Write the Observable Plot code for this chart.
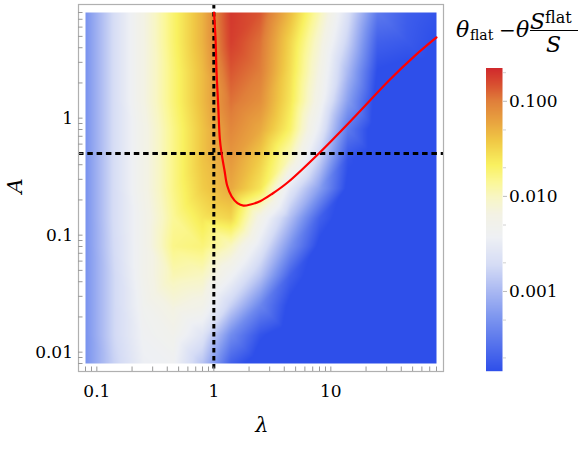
<!DOCTYPE html>
<html>
<head>
<meta charset="utf-8">
<script src="https://cdn.jsdelivr.net/npm/d3@7"></script>
<script src="https://cdn.jsdelivr.net/npm/@observablehq/plot@0.6"></script>
<style>
  body { margin: 0; background: #fff; }
  #chart { position: relative; width: 581px; height: 449px; font-family: 'DejaVu Serif', serif; }
  #chart > svg { position: absolute; top: 0; }
</style>
</head>
<body>
<div id="chart"></div>
<script>
// ---- data ----
const lambdaGrid = [0.08, 0.14, 0.25, 0.45, 0.8, 1.4, 2.5, 4.5, 8, 14, 25, 45, 80];
const aGrid = [8, 4.5, 2.5, 1.4, 0.8, 0.45, 0.25, 0.14, 0.08, 0.045, 0.025, 0.014, 0.008];
// log10(theta_flat - theta*S_flat/S), one row per aGrid value, one column per lambdaGrid value
const logValues = [
  [-3.3, -2.7, -2.2, -1.72, -1.3, -0.72, -0.85, -1.35, -1.95, -2.65, -3.5, -3.72, -3.8],
  [-3.3, -2.7, -2.2, -1.72, -1.3, -0.75, -0.95, -1.5, -2.1, -2.8, -3.7, -3.75, -3.85],
  [-3.3, -2.7, -2.2, -1.75, -1.35, -0.85, -1.0, -1.55, -2.2, -3.0, -3.85, -3.9, -3.9],
  [-3.3, -2.7, -2.2, -1.75, -1.35, -0.95, -1.1, -1.6, -2.3, -3.2, -3.95, -4, -4],
  [-3.3, -2.7, -2.25, -1.8, -1.4, -1.05, -1.25, -1.7, -2.5, -3.5, -4, -4, -4],
  [-3.3, -2.7, -2.25, -1.8, -1.4, -1.15, -1.45, -2.0, -2.8, -3.8, -4, -4, -4],
  [-3.3, -2.7, -2.25, -1.8, -1.45, -1.25, -1.6, -2.55, -3.2, -3.9, -4, -4, -4],
  [-3.3, -2.7, -2.3, -1.85, -1.6, -1.5, -2.25, -2.95, -3.7, -4, -4, -4, -4],
  [-3.3, -2.72, -2.3, -1.8, -1.75, -2.0, -2.55, -3.3, -3.9, -4, -4, -4, -4],
  [-3.3, -2.75, -2.3, -1.95, -2.0, -2.4, -2.9, -3.7, -4, -4, -4, -4, -4],
  [-3.3, -2.75, -2.35, -2.15, -2.25, -2.8, -3.4, -3.9, -4, -4, -4, -4, -4],
  [-3.3, -2.75, -2.4, -2.3, -2.6, -3.35, -3.8, -4, -4, -4, -4, -4, -4],
  [-3.3, -2.8, -2.45, -2.4, -2.9, -3.7, -4, -4, -4, -4, -4, -4, -4]
];
const curveLambda = [1.004, 1.034, 1.055, 1.09, 1.125, 1.164, 1.234, 1.30, 1.42, 1.59, 1.79, 2.06, 2.51, 3.18, 4.27, 7.93, 16.3, 31.4, 52.7, 80];
const curveA = [8.0, 4.77, 2.47, 1.28, 0.667, 0.502, 0.357, 0.266, 0.214, 0.188, 0.179, 0.183, 0.196, 0.227, 0.282, 0.502, 1.05, 2.10, 3.44, 4.90];
const lambdaLine = [1];
const aLine = [0.5];
const xTicks = [0.08, 0.09, 0.1, 0.2, 0.3, 0.4, 0.5, 0.6, 0.7, 0.8, 0.9, 1, 2, 3, 4, 5, 6, 7, 8, 9, 10, 20, 30, 40, 50, 60, 70, 80];
const xTickLabels = [0.1, 1, 10];
const yTicks = [0.008, 0.009, 0.01, 0.02, 0.03, 0.04, 0.05, 0.06, 0.07, 0.08, 0.09, 0.1, 0.2, 0.3, 0.4, 0.5, 0.6, 0.7, 0.8, 0.9, 1, 2, 3, 4, 5, 6, 7, 8];
const yTickLabels = [0.01, 0.1, 1];
const barTicks = [0.0002, 0.0005, 0.002, 0.005, 0.02, 0.05, 0.2];
const barTickLabels = [0.001, 0.01, 0.1];
const barDomain = [0.000145, 0.224];
const colorStops = [-3.84, -3.56, -3.28, -3.0, -2.72, -2.43, -2.19, -2.01, -1.84, -1.667, -1.42, -1.21, -1.0, -0.824, -0.65];
const colorRange = ["#2e4fea", "#5572ec", "#7c95ef", "#a9b8f2", "#d5dcf5", "#eef0f4", "#f3f2e5", "#f8f6c5", "#fbf795", "#f9f160", "#f0c845", "#e8a23f", "#e07f3a", "#d84f30", "#d0282c"];

// ---- tables built from the arrays ----
const FONT = "'DejaVu Serif', serif";
const cells = [];
aGrid.forEach((a, i) => lambdaGrid.forEach((l, j) => cells.push({lambda: l, A: a, v: logValues[i][j]})));
const curve = curveLambda.map((l, i) => ({lambda: l, A: curveA[i]}));
const colorScale = {type: "linear", domain: colorStops, range: colorRange, clamp: true, interpolate: "rgb"};
const xLab = new Set(xTickLabels), yLab = new Set(yTickLabels);

const main = Plot.plot({
  width: 581, height: 449,
  marginLeft: 78, marginRight: 138, marginTop: 4, marginBottom: 78,
  insetLeft: 7, insetRight: 7, insetTop: 8, insetBottom: 8,
  x: {type: "log", domain: [0.08, 80], label: null},
  y: {type: "log", domain: [0.008, 8], label: null},
  color: colorScale,
  style: {fontFamily: FONT, fontSize: "17px", color: "#000", background: "transparent"},
  marks: [
    Plot.raster(cells, {x: "lambda", y: "A", fill: "v", interpolate: "barycentric", x1: 0.08, x2: 80, y1: 0.008, y2: 8}),
    Plot.ruleY(aLine, {stroke: "#000", strokeWidth: 3, strokeDasharray: "5.5,3.8"}),
    Plot.ruleX(lambdaLine, {stroke: "#000", strokeWidth: 3, strokeDasharray: "4.5,3.5"}),
    Plot.line(curve, {x: "lambda", y: "A", stroke: "#ff0000", strokeWidth: 2.2, curve: "catmull-rom"}),
    Plot.frame({stroke: "#b0b0b0", strokeWidth: 1.2}),
    Plot.axisX(xTicks, {anchor: "bottom", tickSize: -4.5, tickPadding: 18, stroke: "#999",
      fontFamily: FONT, tickFormat: d => xLab.has(d) ? String(d) : "", label: null}),
    Plot.axisY(yTicks, {anchor: "left", tickSize: -4.5, tickPadding: 10, stroke: "#999",
      fontFamily: FONT, tickFormat: d => yLab.has(d) ? String(d) : "", label: null})
  ]
});
main.style.left = "0px";
document.getElementById("chart").appendChild(main);

const bar = Plot.plot({
  width: 111, height: 449,
  marginLeft: 15.5, marginRight: 79, marginTop: 67.5, marginBottom: 78.3,
  x: {domain: [0, 1], axis: null},
  y: {type: "log", domain: barDomain, axis: null},
  color: colorScale,
  style: {fontFamily: FONT, fontSize: "17px", color: "#000", background: "transparent"},
  marks: [
    Plot.raster({fill: (x, y) => Math.log10(y), x1: 0, x2: 1, y1: barDomain[0], y2: barDomain[1]}),
    Plot.axisY(barTicks, {anchor: "right", tickSize: 3, stroke: "#d0d0d0", tickFormat: () => "", label: null}),
    Plot.axisY(barTickLabels, {anchor: "right", tickSize: 4, tickPadding: 2.5, stroke: "#bbb",
      fontFamily: FONT, tickFormat: d3.format(".3f"), label: null})
  ]
});
bar.style.left = "470px";
document.getElementById("chart").appendChild(bar);

// ---- text overlay: colour-bar title and axis names ----
const svg = d3.create("svg").attr("width", 581).attr("height", 449)
  .style("left", "0px").style("pointer-events", "none")
  .style("font-family", FONT).attr("fill", "#000");
const t = (x, y, s, size, italic, extra) => {
  const e = svg.append("text").attr("x", x).attr("y", y).attr("font-size", size)
    .style("font-family", FONT)
    .attr("font-style", italic ? "italic" : "normal").text(s);
  if (extra) extra(e);
  return e;
};
t(456, 37, "θ", 22, true);
t(470, 40, "flat", 14, false);
t(499, 37, "−", 20, false);
t(516, 37, "θ", 22, true);
t(530, 28.5, "S", 22, true);
t(545, 23, "flat", 16, false);
svg.append("line").attr("x1", 530).attr("x2", 578).attr("y1", 30.5).attr("y2", 30.5).attr("stroke", "#000").attr("stroke-width", 1);
t(546, 52, "S", 22, true);
t(262, 432, "λ", 21, true, e => e.attr("text-anchor", "middle"));
t(0, 0, "A", 21, true, e => e.attr("text-anchor", "middle").attr("transform", "translate(22,186) rotate(-90)"));
document.getElementById("chart").appendChild(svg.node());
</script>
</body>
</html>
